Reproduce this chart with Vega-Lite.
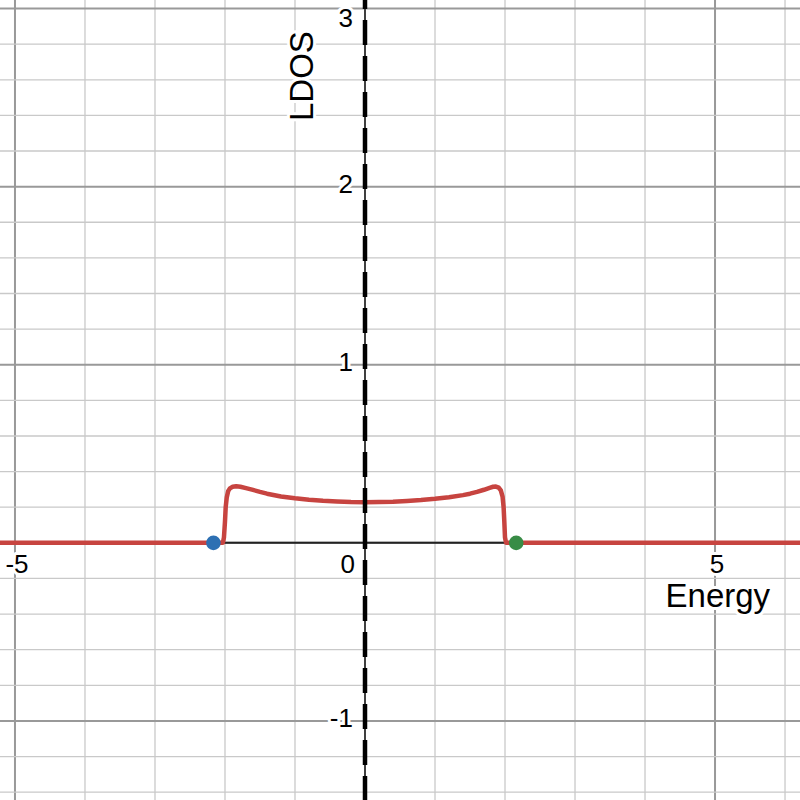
{
  "$schema": "https://vega.github.io/schema/vega-lite/v6.json",
  "width": 800,
  "height": 800,
  "autosize": {"type": "none"},
  "padding": 0,
  "background": "white",
  "config": {"view": {"stroke": null}, "text": {"font": "Liberation Sans", "color": "black"}},
  "datasets": {
    "vgrid": [
      {"E": -4, "kind": "minor"}, {"E": -3, "kind": "minor"}, {"E": -2, "kind": "minor"},
      {"E": -1, "kind": "minor"}, {"E": 1, "kind": "minor"}, {"E": 2, "kind": "minor"},
      {"E": 3, "kind": "minor"}, {"E": 4, "kind": "minor"}, {"E": 6, "kind": "minor"},
      {"E": -5, "kind": "major"}, {"E": 0, "kind": "major"}, {"E": 5, "kind": "major"}
    ],
    "hgrid": [
      {"ldos": -1.4, "kind": "minor"}, {"ldos": -1.2, "kind": "minor"}, {"ldos": -0.8, "kind": "minor"},
      {"ldos": -0.6, "kind": "minor"}, {"ldos": -0.4, "kind": "minor"}, {"ldos": -0.2, "kind": "minor"},
      {"ldos": 0.2, "kind": "minor"}, {"ldos": 0.4, "kind": "minor"}, {"ldos": 0.6, "kind": "minor"},
      {"ldos": 0.8, "kind": "minor"}, {"ldos": 1.2, "kind": "minor"}, {"ldos": 1.4, "kind": "minor"},
      {"ldos": 1.6, "kind": "minor"}, {"ldos": 1.8, "kind": "minor"}, {"ldos": 2.2, "kind": "minor"},
      {"ldos": 2.4, "kind": "minor"}, {"ldos": 2.6, "kind": "minor"}, {"ldos": 2.8, "kind": "minor"},
      {"ldos": -1, "kind": "major"}, {"ldos": 0, "kind": "major"}, {"ldos": 1, "kind": "major"},
      {"ldos": 2, "kind": "major"}, {"ldos": 3, "kind": "major"}
    ],
    "curve": [
      {"E": -5.4, "ldos": 0}, {"E": -2.03, "ldos": 0}, {"E": -2.015, "ldos": 0.03},
      {"E": -2.0, "ldos": 0.12}, {"E": -1.99, "ldos": 0.2}, {"E": -1.975, "ldos": 0.255},
      {"E": -1.955, "ldos": 0.29}, {"E": -1.93, "ldos": 0.306}, {"E": -1.89, "ldos": 0.315},
      {"E": -1.84, "ldos": 0.318}, {"E": -1.78, "ldos": 0.315}, {"E": -1.7, "ldos": 0.307},
      {"E": -1.6, "ldos": 0.297}, {"E": -1.5, "ldos": 0.286}, {"E": -1.4, "ldos": 0.276},
      {"E": -1.2, "ldos": 0.26}, {"E": -1.0, "ldos": 0.25}, {"E": -0.8, "ldos": 0.242},
      {"E": -0.6, "ldos": 0.236}, {"E": -0.4, "ldos": 0.232}, {"E": -0.2, "ldos": 0.229},
      {"E": 0, "ldos": 0.228}, {"E": 0.2, "ldos": 0.229}, {"E": 0.4, "ldos": 0.231},
      {"E": 0.6, "ldos": 0.235}, {"E": 0.8, "ldos": 0.24}, {"E": 1.0, "ldos": 0.247},
      {"E": 1.2, "ldos": 0.256}, {"E": 1.4, "ldos": 0.268}, {"E": 1.5, "ldos": 0.276},
      {"E": 1.6, "ldos": 0.286}, {"E": 1.7, "ldos": 0.298}, {"E": 1.78, "ldos": 0.309},
      {"E": 1.83, "ldos": 0.315}, {"E": 1.87, "ldos": 0.316}, {"E": 1.91, "ldos": 0.31},
      {"E": 1.94, "ldos": 0.295}, {"E": 1.965, "ldos": 0.26}, {"E": 1.98, "ldos": 0.2},
      {"E": 1.99, "ldos": 0.12}, {"E": 2.0, "ldos": 0.03}, {"E": 2.015, "ldos": 0},
      {"E": 6.4, "ldos": 0}
    ],
    "edges": [
      {"E": -2.165, "ldos": 0, "name": "lower"},
      {"E": 2.16, "ldos": 0, "name": "upper"}
    ],
    "xticks": [{"E": -5, "label": "-5"}, {"E": 5, "label": "5"}],
    "yticks": [{"ldos": -1, "label": "-1"}, {"ldos": 1, "label": "1"}, {"ldos": 2, "label": "2"}]
  },
  "layer": [
    {
      "data": {"name": "vgrid"},
      "mark": {"type": "rule"},
      "encoding": {
        "x": {"field": "E", "type": "quantitative", "scale": {"domain": [-5.214, 6.214], "nice": false, "zero": false}, "axis": null},
        "color": {"field": "kind", "type": "nominal", "scale": {"domain": ["minor", "major"], "range": ["#c9c9c9", "#999999"]}, "legend": null},
        "strokeWidth": {"field": "kind", "type": "nominal", "scale": {"domain": ["minor", "major"], "range": [1.3, 2]}, "legend": null}
      }
    },
    {
      "data": {"name": "hgrid"},
      "mark": {"type": "rule"},
      "encoding": {
        "y": {"field": "ldos", "type": "quantitative", "scale": {"domain": [-1.444, 3.048], "nice": false, "zero": false}, "axis": null},
        "color": {"field": "kind", "type": "nominal", "scale": {"domain": ["minor", "major"], "range": ["#c9c9c9", "#999999"]}, "legend": null},
        "strokeWidth": {"field": "kind", "type": "nominal", "scale": {"domain": ["minor", "major"], "range": [1.3, 2]}, "legend": null}
      }
    },
    {
      "data": {"values": [{}]},
      "mark": {"type": "rule", "color": "#222222", "strokeWidth": 2},
      "encoding": {
        "y": {"datum": 0, "type": "quantitative", "scale": {"domain": [-1.444, 3.048], "nice": false, "zero": false}, "axis": null}
      }
    },
    {
      "data": {"values": [{}]},
      "mark": {"type": "rule", "color": "#222222", "strokeWidth": 1.5},
      "encoding": {
        "x": {"datum": 0, "type": "quantitative", "scale": {"domain": [-5.214, 6.214], "nice": false, "zero": false}, "axis": null}
      }
    },
    {
      "data": {"name": "curve"},
      "mark": {"type": "line", "color": "#c74440", "strokeWidth": 4.5, "strokeCap": "round", "strokeJoin": "round", "clip": true},
      "encoding": {
        "x": {"field": "E", "type": "quantitative", "scale": {"domain": [-5.214, 6.214], "nice": false, "zero": false}, "axis": null},
        "y": {"field": "ldos", "type": "quantitative", "scale": {"domain": [-1.444, 3.048], "nice": false, "zero": false}, "axis": null}
      }
    },
    {
      "data": {"values": [{}]},
      "mark": {"type": "rule", "color": "black", "strokeWidth": 4.5, "strokeDash": [25, 11], "strokeDashOffset": 16},
      "encoding": {
        "x": {"datum": 0, "type": "quantitative", "scale": {"domain": [-5.214, 6.214], "nice": false, "zero": false}, "axis": null},
        "y": {"datum": 3.048, "type": "quantitative", "scale": {"domain": [-1.444, 3.048], "nice": false, "zero": false}, "axis": null},
        "y2": {"datum": -1.444}
      }
    },
    {
      "data": {"name": "edges"},
      "transform": [{"filter": "datum.name === 'lower'"}],
      "mark": {"type": "point", "filled": true, "opacity": 1, "size": 215, "color": "#2d70b3"},
      "encoding": {
        "x": {"field": "E", "type": "quantitative", "scale": {"domain": [-5.214, 6.214], "nice": false, "zero": false}, "axis": null},
        "y": {"field": "ldos", "type": "quantitative", "scale": {"domain": [-1.444, 3.048], "nice": false, "zero": false}, "axis": null}
      }
    },
    {
      "data": {"name": "edges"},
      "transform": [{"filter": "datum.name === 'upper'"}],
      "mark": {"type": "point", "filled": true, "opacity": 1, "size": 215, "color": "#388c46"},
      "encoding": {
        "x": {"field": "E", "type": "quantitative", "scale": {"domain": [-5.214, 6.214], "nice": false, "zero": false}, "axis": null},
        "y": {"field": "ldos", "type": "quantitative", "scale": {"domain": [-1.444, 3.048], "nice": false, "zero": false}, "axis": null}
      }
    },
    {
      "data": {"name": "xticks"},
      "encoding": {
        "x": {"field": "E", "type": "quantitative", "scale": {"domain": [-5.214, 6.214], "nice": false, "zero": false}, "axis": null},
        "y": {"datum": 0, "type": "quantitative", "scale": {"domain": [-1.444, 3.048], "nice": false, "zero": false}, "axis": null},
        "text": {"field": "label"}
      },
      "layer": [
        {"mark": {"type": "text", "fontSize": 26, "align": "center", "baseline": "alphabetic", "dx": 2, "dy": 30, "fill": "white", "stroke": "white", "strokeWidth": 6, "strokeJoin": "round"}},
        {"mark": {"type": "text", "fontSize": 26, "align": "center", "baseline": "alphabetic", "dx": 2, "dy": 30, "fill": "black"}}
      ]
    },
    {
      "data": {"values": [{}]},
      "encoding": {
        "x": {"datum": 0, "type": "quantitative", "scale": {"domain": [-5.214, 6.214], "nice": false, "zero": false}, "axis": null},
        "y": {"datum": 0, "type": "quantitative", "scale": {"domain": [-1.444, 3.048], "nice": false, "zero": false}, "axis": null},
        "text": {"value": "0"}
      },
      "layer": [
        {"mark": {"type": "text", "fontSize": 26, "align": "right", "baseline": "alphabetic", "dx": -10, "dy": 30, "fill": "white", "stroke": "white", "strokeWidth": 6, "strokeJoin": "round"}},
        {"mark": {"type": "text", "fontSize": 26, "align": "right", "baseline": "alphabetic", "dx": -10, "dy": 30, "fill": "black"}}
      ]
    },
    {
      "data": {"name": "yticks"},
      "encoding": {
        "x": {"datum": 0, "type": "quantitative", "scale": {"domain": [-5.214, 6.214], "nice": false, "zero": false}, "axis": null},
        "y": {"field": "ldos", "type": "quantitative", "scale": {"domain": [-1.444, 3.048], "nice": false, "zero": false}, "axis": null},
        "text": {"field": "label"}
      },
      "layer": [
        {"mark": {"type": "text", "fontSize": 26, "align": "right", "baseline": "alphabetic", "dx": -12, "dy": 6, "fill": "white", "stroke": "white", "strokeWidth": 6, "strokeJoin": "round"}},
        {"mark": {"type": "text", "fontSize": 26, "align": "right", "baseline": "alphabetic", "dx": -12, "dy": 6, "fill": "black"}}
      ]
    },
    {
      "data": {"values": [{}]},
      "encoding": {
        "x": {"datum": 0, "type": "quantitative", "scale": {"domain": [-5.214, 6.214], "nice": false, "zero": false}, "axis": null},
        "y": {"datum": 3, "type": "quantitative", "scale": {"domain": [-1.444, 3.048], "nice": false, "zero": false}, "axis": null},
        "text": {"value": "3"}
      },
      "layer": [
        {"mark": {"type": "text", "fontSize": 26, "align": "right", "baseline": "alphabetic", "dx": -12, "dy": 18, "fill": "white", "stroke": "white", "strokeWidth": 6, "strokeJoin": "round"}},
        {"mark": {"type": "text", "fontSize": 26, "align": "right", "baseline": "alphabetic", "dx": -12, "dy": 18, "fill": "black"}}
      ]
    },
    {
      "data": {"values": [{}]},
      "encoding": {
        "x": {"datum": 5.04, "type": "quantitative", "scale": {"domain": [-5.214, 6.214], "nice": false, "zero": false}, "axis": null},
        "y": {"datum": -0.36, "type": "quantitative", "scale": {"domain": [-1.444, 3.048], "nice": false, "zero": false}, "axis": null},
        "text": {"value": "Energy"}
      },
      "layer": [
        {"mark": {"type": "text", "fontSize": 33, "align": "center", "baseline": "alphabetic", "fill": "white", "stroke": "white", "strokeWidth": 6, "strokeJoin": "round"}},
        {"mark": {"type": "text", "fontSize": 33, "align": "center", "baseline": "alphabetic", "fill": "black"}}
      ]
    },
    {
      "data": {"values": [{}]},
      "encoding": {
        "x": {"datum": -0.743, "type": "quantitative", "scale": {"domain": [-5.214, 6.214], "nice": false, "zero": false}, "axis": null},
        "y": {"datum": 2.621, "type": "quantitative", "scale": {"domain": [-1.444, 3.048], "nice": false, "zero": false}, "axis": null},
        "text": {"value": "LDOS"}
      },
      "layer": [
        {"mark": {"type": "text", "fontSize": 33, "angle": 270, "align": "center", "baseline": "alphabetic", "fill": "white", "stroke": "white", "strokeWidth": 6, "strokeJoin": "round"}},
        {"mark": {"type": "text", "fontSize": 33, "angle": 270, "align": "center", "baseline": "alphabetic", "fill": "black"}}
      ]
    }
  ]
}
